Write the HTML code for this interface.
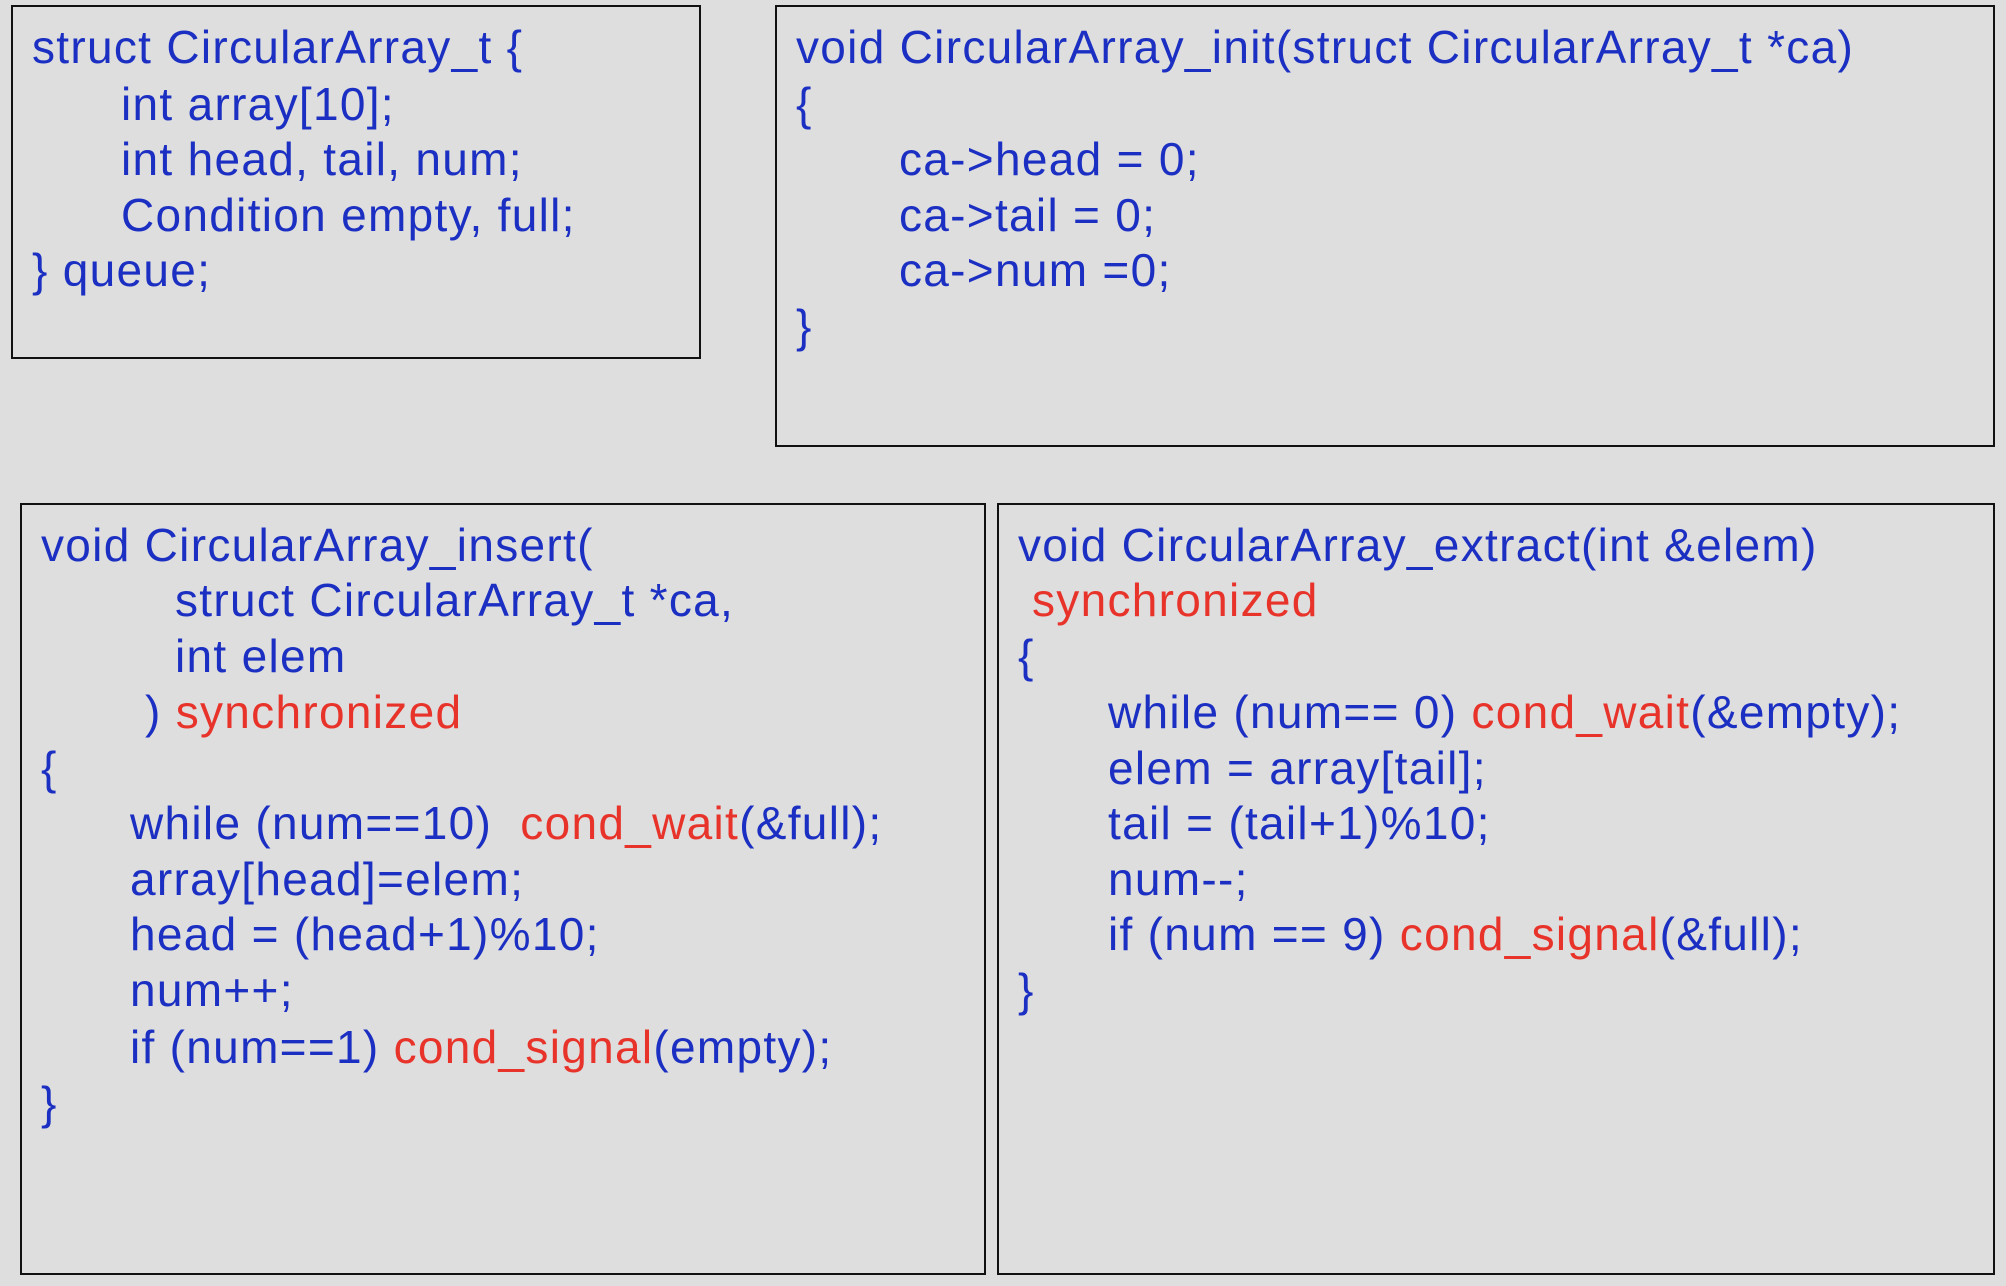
<!DOCTYPE html>
<html><head><meta charset="utf-8"><style>
body{margin:0;width:2006px;height:1286px;background:#dedede;overflow:hidden;position:relative;font-family:"Liberation Sans",sans-serif;}
.b{position:absolute;border:2px solid #111;box-sizing:border-box;}
.l{position:absolute;white-space:pre;font-size:46px;letter-spacing:1.3px;line-height:56px;color:#1b2fc2;}
.r{color:#e8332a;}
</style></head><body>
<div class="b" style="left:11px;top:5px;width:690px;height:354px"></div>
<div class="b" style="left:775px;top:5px;width:1220px;height:442px"></div>
<div class="b" style="left:20px;top:503px;width:966px;height:772px"></div>
<div class="b" style="left:997px;top:503px;width:998px;height:772px"></div>

<div class="l" style="left:32px;top:19px">struct CircularArray_t {</div>
<div class="l" style="left:121px;top:76px">int array[10];</div>
<div class="l" style="left:121px;top:131px">int head, tail, num;</div>
<div class="l" style="left:121px;top:187px">Condition empty, full;</div>
<div class="l" style="left:32px;top:242px">} queue;</div>

<div class="l" style="left:796px;top:19px">void CircularArray_init(struct CircularArray_t *ca)</div>
<div class="l" style="left:796px;top:76px">{</div>
<div class="l" style="left:899px;top:131px">ca-&gt;head = 0;</div>
<div class="l" style="left:899px;top:187px">ca-&gt;tail = 0;</div>
<div class="l" style="left:899px;top:242px">ca-&gt;num =0;</div>
<div class="l" style="left:796px;top:298px">}</div>

<div class="l" style="left:41px;top:517px">void CircularArray_insert(</div>
<div class="l" style="left:175px;top:572px">struct CircularArray_t *ca,</div>
<div class="l" style="left:175px;top:628px">int elem</div>
<div class="l" style="left:145px;top:684px">) <span class="r">synchronized</span></div>
<div class="l" style="left:41px;top:740px">{</div>
<div class="l" style="left:130px;top:795px">while (num==10)  <span class="r">cond_wait</span>(&amp;full);</div>
<div class="l" style="left:130px;top:851px">array[head]=elem;</div>
<div class="l" style="left:130px;top:906px">head = (head+1)%10;</div>
<div class="l" style="left:130px;top:962px">num++;</div>
<div class="l" style="left:130px;top:1019px">if (num==1) <span class="r">cond_signal</span>(empty);</div>
<div class="l" style="left:41px;top:1075px">}</div>

<div class="l" style="left:1018px;top:517px">void CircularArray_extract(int &amp;elem)</div>
<div class="l r" style="left:1032px;top:572px">synchronized</div>
<div class="l" style="left:1018px;top:628px">{</div>
<div class="l" style="left:1108px;top:684px">while (num== 0) <span class="r">cond_wait</span>(&amp;empty);</div>
<div class="l" style="left:1108px;top:740px">elem = array[tail];</div>
<div class="l" style="left:1108px;top:795px">tail = (tail+1)%10;</div>
<div class="l" style="left:1108px;top:851px">num--;</div>
<div class="l" style="left:1108px;top:906px">if (num == 9) <span class="r">cond_signal</span>(&amp;full);</div>
<div class="l" style="left:1018px;top:962px">}</div>
</body></html>
